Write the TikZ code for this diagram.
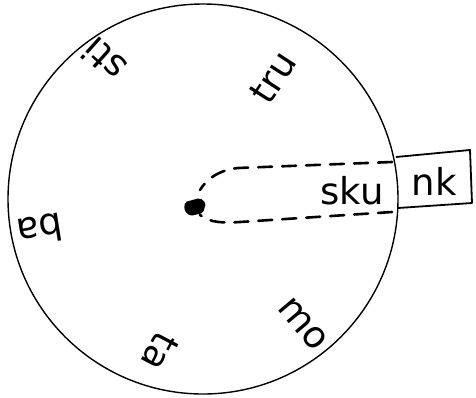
\documentclass[tikz,border=0pt]{standalone}
\usepackage{fontspec}
\setmainfont{DejaVu Sans}
\begin{document}
\begin{tikzpicture}[x=1pt,y=-1pt,
  word/.style={font=\fontsize{37}{39}\selectfont, inner sep=0pt},
  rim/.style={line width=1.4pt},
  dashline/.style={line width=2.6pt, dash pattern=on 14pt off 10pt, line cap=round},
  boxline/.style={line width=1.8pt, line join=round}]
\useasboundingbox (0,0) rectangle (476,397);
\fill[white] (0,0) rectangle (476,397);
% spinner disc
\coordinate (c) at (203,199);
\draw[rim] (c) circle[radius=195];
% word box on the rim
\draw[boxline] (396,157) -- (470,150) -- (472,203) -- (398,208);
% dashed pointer
\draw[dashline] (392,162) -- (238,168) .. controls (218,170) and (206,180) .. (200,190);
\draw[dashline] (392,212) -- (240,222) .. controls (224,223) and (210,223) .. (200,215);
% pivot
\fill[rounded corners=2pt] (185,202) -- (200,198) -- (206,203) -- (203,213) -- (190,216) -- (184,210) -- cycle;
% words
\node[word] (sku) at (352,191) {sku};
\node[word] (nk) at (434,181) {nk};
\node[word, rotate=57] (tru) at (273,77) {tru};
\node[word, rotate=138] (sti) at (104,60) {sti};
\node[word, rotate=189] (ba) at (40,230) {ba};
\node[word, rotate=242] (ta) at (160,352) {ta};
\node[word, rotate=-50] (mo) at (303,324) {mo};
\end{tikzpicture}
\end{document}
